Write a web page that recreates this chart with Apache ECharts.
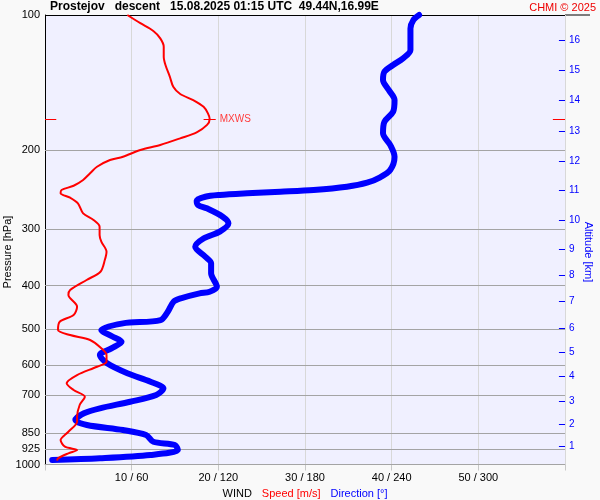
<!DOCTYPE html>
<html><head><meta charset="utf-8">
<script src="https://cdn.jsdelivr.net/npm/echarts@6/dist/echarts.min.js"></script>
<style>html,body{margin:0;padding:0;background:#f9f9f9}#c{width:600px;height:500px}</style>
</head><body><div id="c"></div>
<script>
const FONT = '"Liberation Sans", Arial, sans-serif';

// Pressure levels with labels/gridlines (hPa)
const pressureLevels = [100, 200, 300, 400, 500, 600, 700, 850, 925, 1000];
// Altitude ticks (km) and the pressure at which each sits (hPa)
const altitudeKm = [1, 2, 3, 4, 5, 6, 7, 8, 9, 10, 11, 12, 13, 14, 15, 16];
const altitudePressure = [912.8, 812.5, 722.4, 635.6, 564.0, 497.0, 433.5, 378.8, 331.6, 285.8, 246.0, 211.2, 181.8, 154.6, 133.0, 113.7];
// Bottom tick labels: speed (m/s) / direction (deg)
const speedTickValues = [10, 20, 30, 40, 50];
const directionTickValues = [60, 120, 180, 240, 300];

// Wind speed profile
const speedPressure = [100,104.3,108.5,112.7,117.6,123.8,129.2,137.1,144.4,149.9,154.6,160.0,165.5,170.3,175.6,182.4,188.1,194.6,199.7,206.7,210.2,217.6,225.0,232.8,239.8,245.1,249.3,255.0,262.4,276.3,285.8,295.8,308.6,319.4,336.3,350.9,372.5,388.6,409.1,419.8,445.6,464.9,481.2,502.2,515.2,528.5,551.5,570.8,590.7,606.0,632.4,659.9,682.9,706.7,737.3,783.1,803.3,845.4,882.2,912.8,928.4,944.3,968.7,980.6];
const speedValues = [9.5,11.0,12.5,13.3,13.7,13.7,13.9,14.4,14.8,15.6,17.1,18.3,18.8,19.0,18.7,17.5,15.6,13.3,11.0,9.0,7.5,6.0,5.2,4.4,3.3,1.9,1.8,2.9,3.8,4.4,5.6,6.3,6.3,6.5,7.1,6.9,6.4,4.8,2.9,2.7,3.7,3.3,1.7,1.5,2.9,5.2,6.5,7.1,7.1,6.0,3.7,2.5,3.3,4.6,4.0,3.7,3.7,2.7,1.8,2.3,3.7,2.7,1.5,1.4];

// Wind direction profile
const dirPressure = [100,102.6,107.1,112.7,119.6,124.8,129.2,133.7,139.5,146.9,154.6,164.1,172.7,183.3,194.6,206.7,221.2,229.6,236.1,241.0,245.1,247.3,249.3,251.4,253.7,258.9,264.7,269.2,281.0,290.7,303.4,313.9,327.8,345.0,356.8,375.5,402.2,412.8,416.1,426.9,434.4,457.2,477.1,485.3,502.2,519.7,533.2,551.5,570.8,595.6,626.8,654.4,677.0,700.5,725.0,749.9,769.3,796.3,817.0,838.1,860.0,889.9,904.9,928.4,952.5,968.7,977.3];
const dirValues = [259,255,253,253,253,248,241,235,234,238,242,241,235,234,239,242,239,232,223,209,186,163,140,121,111,105,106,112,123,127,121,110,104,111,115,115,119,114,107,94,89,85,80,54,39,47,53,46,38,43,57,73,82,77,59,38,27,21,29,54,70,75,90,92,73,38,5];

const chart = echarts.init(document.getElementById('c'), null, {renderer: 'canvas'});

const iMax = speedValues.indexOf(Math.max.apply(null, speedValues));
const maxS = speedValues[iMax], maxP = speedPressure[iMax];

const pressureLines = pressureLevels.map((p, i) => ({
  yAxis: p,
  lineStyle: {color: i === 0 ? '#000' : '#a4a4a4', width: 1, type: 'solid'},
  label: {show: true, position: 'start', distance: 5, formatter: String(p), color: '#000', fontSize: 11, fontFamily: FONT}
}));
const altitudeLines = altitudeKm.map((km, i) => [
  {coord: [59.3, altitudePressure[i]], lineStyle: {color: '#0000ff', width: 1, type: 'solid'},
   label: {show: true, position: 'end', distance: 4, formatter: String(km), color: '#0000ff', fontSize: 10, fontFamily: FONT}},
  {coord: [60, altitudePressure[i]]}
]);
const mxwsRed = {color: '#ff0000', width: 1, type: 'solid'};
const mxwsLines = [
  [{coord: [0, maxP], lineStyle: mxwsRed, label: {show: false}}, {coord: [1.3, maxP]}],
  [{coord: [maxS - 0.7, maxP], lineStyle: mxwsRed, label: {show: true, position: 'end', distance: 4, formatter: 'MXWS', color: '#ff3c3c', fontSize: 10, fontFamily: FONT}}, {coord: [maxS + 0.7, maxP]}],
  [{coord: [58.6, maxP], lineStyle: mxwsRed, label: {show: false}}, {coord: [60, maxP]}]
];

const option = {
  backgroundColor: '#f9f9f9',
  animation: false,
  textStyle: {fontFamily: FONT},
  title: [
    {text: 'Prostejov   descent   15.08.2025 01:15 UTC  49.44N,16.99E', left: 50, top: 1, padding: 0,
     textStyle: {fontSize: 12, fontWeight: 'bold', color: '#000', fontFamily: FONT}},
    {text: 'CHMI © 2025', right: 4, top: 2, padding: 0,
     textStyle: {fontSize: 11, fontWeight: 'normal', color: '#ee0000', fontFamily: FONT}}
  ],
  grid: {left: 45, right: 35, top: 15, bottom: 35.5, show: true, backgroundColor: '#f0f0ff', borderWidth: 0,
         containLabel: false, outerBoundsMode: 'none'},
  xAxis: [
    {type: 'value', min: 0, max: 60, interval: 10, position: 'bottom',
     axisLine: {show: true, lineStyle: {color: '#a8a8a8'}},
     axisTick: {show: true, length: 6, lineStyle: {color: '#c8c8c8'}},
     axisLabel: {color: '#000', fontSize: 11, margin: 8, fontFamily: FONT,
       formatter: v => { const i = speedTickValues.indexOf(v); return i < 0 ? '' : v + ' / ' + directionTickValues[i]; }},
     splitLine: {show: true, lineStyle: {color: '#d8d8d8', width: 1}},
     name: '{w|WIND}   {s|Speed [m/s]}   {d|Direction [°]}', nameLocation: 'middle', nameGap: 21,
     nameTextStyle: {fontFamily: FONT, rich: {
       w: {color: '#000', fontSize: 11, fontFamily: FONT},
       s: {color: '#ff0000', fontSize: 11, fontFamily: FONT},
       d: {color: '#0000ff', fontSize: 11, fontFamily: FONT}}}
    },
    {type: 'value', min: 0, max: 360, show: false}
  ],
  yAxis: {type: 'log', logBase: 10, min: 100, max: 1000, inverse: true,
    axisLine: {show: true, lineStyle: {color: '#000'}}, axisTick: {show: false},
    axisLabel: {show: false}, splitLine: {show: false}},
  graphic: [
    {type: 'text', x: 8, y: 252, rotation: Math.PI / 2,
     style: {text: 'Pressure [hPa]', font: '11px "Liberation Sans", Arial, sans-serif', fill: '#000', align: 'center', verticalAlign: 'middle'}},
    {type: 'text', x: 588, y: 252, rotation: -Math.PI / 2,
     style: {text: 'Altitude [km]', font: '11px "Liberation Sans", Arial, sans-serif', fill: '#0000ff', align: 'center', verticalAlign: 'middle'}},
    {type: 'line', shape: {x1: 565, y1: 15, x2: 590, y2: 15}, style: {stroke: '#000', lineWidth: 1}}
  ],
  series: [
    {name: 'grid', type: 'line', data: [], z: 1, silent: true,
     markLine: {silent: true, symbol: 'none', animation: false, data: pressureLines.concat(altitudeLines)}},
    {name: 'Direction', type: 'line', xAxisIndex: 1, z: 10, symbol: 'none', smooth: 0.3, clip: false,
     lineStyle: {color: '#0000ff', width: 6, cap: 'round', join: 'round'},
     data: dirPressure.map((p, i) => [dirValues[i], p])},
    {name: 'Speed', type: 'line', xAxisIndex: 0, z: 11, symbol: 'none', smooth: 0.3, clip: false,
     lineStyle: {color: '#ff0000', width: 2, join: 'round'},
     data: speedPressure.map((p, i) => [speedValues[i], p]),
     markLine: {silent: true, symbol: 'none', animation: false, data: mxwsLines}}
  ]
};
chart.setOption(option);
</script></body></html>
